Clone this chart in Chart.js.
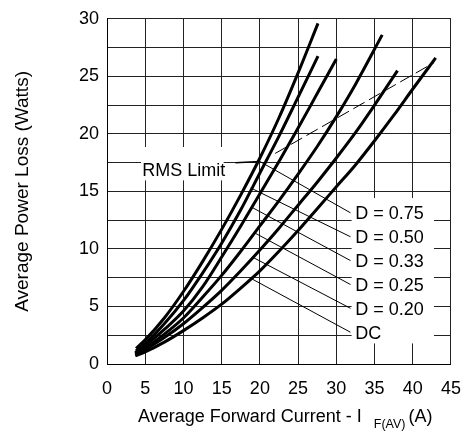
<!DOCTYPE html>
<html>
<head>
<meta charset="utf-8">
<style>
  html, body { margin: 0; padding: 0; background: #fff; }
</style>
</head>
<body>
<canvas id="lossChart" width="475" height="434"></canvas>

<script src="https://cdn.jsdelivr.net/npm/chart.js"></script>

<script>
const FONT = "'Liberation Sans', Arial, sans-serif";

// readings: [average current A, power loss W]
const curveD075 = [[3.8, 1.35], [5, 2.1], [7.5, 4.0], [10, 6.3], [12.5, 8.9], [15, 11.7], [17.5, 14.7], [20, 17.9], [22.5, 21.4], [25, 25.3], [27.6, 29.6]];
const curveD050 = [[3.8, 1.15], [5, 1.8], [7.5, 3.5], [10, 5.5], [12.5, 7.9], [15, 10.5], [17.5, 13.4], [20, 16.6], [22.5, 19.8], [25, 23.2], [27.6, 26.75]];
const curveD033 = [[3.7, 1.0], [5, 1.6], [7.5, 3.0], [10, 4.6], [12.5, 6.7], [15, 9.3], [17.5, 12.0], [20, 14.8], [22.5, 17.6], [25, 20.5], [27.5, 23.5], [30, 26.5]];
const curveD025 = [[3.7, 0.9], [5, 1.4], [7.5, 2.6], [10, 4.0], [12.5, 5.8], [15, 7.7], [17.5, 9.8], [20, 12.0], [22.5, 14.2], [25, 16.5], [27.5, 18.9], [30, 21.5], [32.5, 24.3], [36, 28.6]];
const curveD020 = [[3.7, 0.8], [5, 1.25], [7.5, 2.3], [10, 3.5], [12.5, 4.9], [15, 6.4], [17.5, 8.1], [20, 9.9], [22.5, 11.8], [25, 13.8], [27.5, 15.8], [30, 17.9], [32.5, 20.1], [35, 22.5], [38, 25.5]];
const curveDC = [[3.7, 0.7], [5, 1.05], [7.5, 1.9], [10, 2.9], [12.5, 4.0], [15, 5.2], [17.5, 6.6], [20, 8.1], [22.5, 9.8], [25, 11.6], [27.5, 13.5], [30, 15.4], [32.5, 17.3], [35, 19.4], [37.5, 21.6], [40, 23.9], [43, 26.6]];

const curveLabels = ['D = 0.75', 'D = 0.50', 'D = 0.33', 'D = 0.25', 'D = 0.20', 'DC'];
// where each leader touches its curve, and the height of its label
const leaderStarts = [[20.0, 17.6], [18.8, 15.3], [19.0, 13.6], [19.3, 11.4], [19.0, 9.3], [18.8, 7.45]];
const labelLevels = [13.14, 11.06, 8.99, 6.91, 4.84, 2.76];
const labelCurrent = 31.85;

const rmsLimitLine = [[22.0, 18.3], [42.8, 26.2]];
const rmsLeader = [[16.8, 17.5], [20.0, 17.6]];

const xRange = [0, 45, 5];
const yRange = [0, 30, 2.5];

const toXY = pts => pts.map(p => ({ x: p[0], y: p[1] }));

const curves = [curveD075, curveD050, curveD033, curveD025, curveD020, curveDC];

const datasets = curves.map(c => ({
  data: toXY(c),
  borderColor: '#000',
  borderWidth: 3,
  pointRadius: 0,
  cubicInterpolationMode: 'monotone',
  fill: false
}));

leaderStarts.forEach((s, i) => {
  datasets.push({
    data: toXY([s, [labelCurrent, labelLevels[i]]]),
    borderColor: '#000',
    borderWidth: 1,
    pointRadius: 0,
    fill: false
  });
});

datasets.push({
  data: toXY(rmsLeader),
  borderColor: '#000',
  borderWidth: 1.5,
  pointRadius: 0,
  fill: false
});

datasets.push({
  data: toXY(rmsLimitLine),
  borderColor: '#000',
  borderWidth: 1,
  borderDash: [13, 5],
  pointRadius: 0,
  fill: false
});

// white boxes behind the text, then the text itself
const notes = {
  id: 'notes',
  beforeDatasetsDraw(chart) {
    const { ctx, scales: { x, y } } = chart;
    ctx.save();
    ctx.fillStyle = '#fff';
    const box = (x0, y0, x1, y1) => {
      const l = x.getPixelForValue(x0), r = x.getPixelForValue(x1);
      const t = y.getPixelForValue(y0), b = y.getPixelForValue(y1);
      ctx.fillRect(l, t, r - l, b - t);
    };
    box(4.45, 18.86, 15.26, 15.96);
    box(32.0, 14.42, 42.77, 1.79);
    ctx.restore();
  },
  afterDatasetsDraw(chart) {
    const { ctx, scales: { x, y }, chartArea } = chart;
    ctx.save();
    ctx.fillStyle = '#000';
    ctx.textBaseline = 'alphabetic';
    ctx.textAlign = 'left';
    ctx.font = '18px ' + FONT;
    ctx.fillText('RMS Limit', x.getPixelForValue(4.6), y.getPixelForValue(16.38));
    curveLabels.forEach((t, i) => {
      ctx.fillText(t, x.getPixelForValue(32.47), y.getPixelForValue(labelLevels[i]) + 6.6);
    });

    // x axis title with subscript
    let px = chartArea.left + 31;
    const base = 422;
    const main = 'Average Forward Current - I';
    ctx.fillText(main, px, base);
    px += ctx.measureText(main).width + 12;
    ctx.font = '12.5px ' + FONT;
    ctx.fillText('F(AV)', px, base + 6);
    px += ctx.measureText('F(AV)').width + 3;
    ctx.font = '18px ' + FONT;
    ctx.fillText('(A)', px, base);
    ctx.restore();
  }
};

const config = {
  type: 'line',
  data: { datasets },
  options: {
    responsive: false,
    animation: false,
    events: [],
    layout: { padding: { left: 0, top: 12, right: 17, bottom: 0 } },
    plugins: {
      legend: { display: false },
      tooltip: { enabled: false }
    },
    scales: {
      x: {
        type: 'linear',
        min: xRange[0],
        max: xRange[1],
        ticks: {
          stepSize: xRange[2],
          padding: 14,
          color: '#000',
          font: { family: FONT, size: 18 }
        },
        grid: { color: '#222', lineWidth: 1, drawTicks: false },
        border: { color: '#000', width: 1 },
        afterFit: scale => { scale.height = 70; }
      },
      y: {
        type: 'linear',
        min: yRange[0],
        max: yRange[1],
        ticks: {
          stepSize: yRange[2],
          padding: 8,
          color: '#000',
          font: { family: FONT, size: 18 },
          callback: v => (v % 5 === 0 ? v : '')
        },
        grid: { color: '#222', lineWidth: 1, drawTicks: false },
        border: { color: '#000', width: 1 },
        title: {
          display: true,
          text: 'Average Power Loss (Watts)',
          color: '#000',
          font: { family: FONT, size: 19 },
          padding: { top: 11, bottom: 0 }
        },
        afterFit: scale => { scale.width = 107; }
      }
    }
  },
  plugins: [notes]
};

const lossChart = new Chart(document.getElementById('lossChart'), config);
</script>
</body>
</html>
